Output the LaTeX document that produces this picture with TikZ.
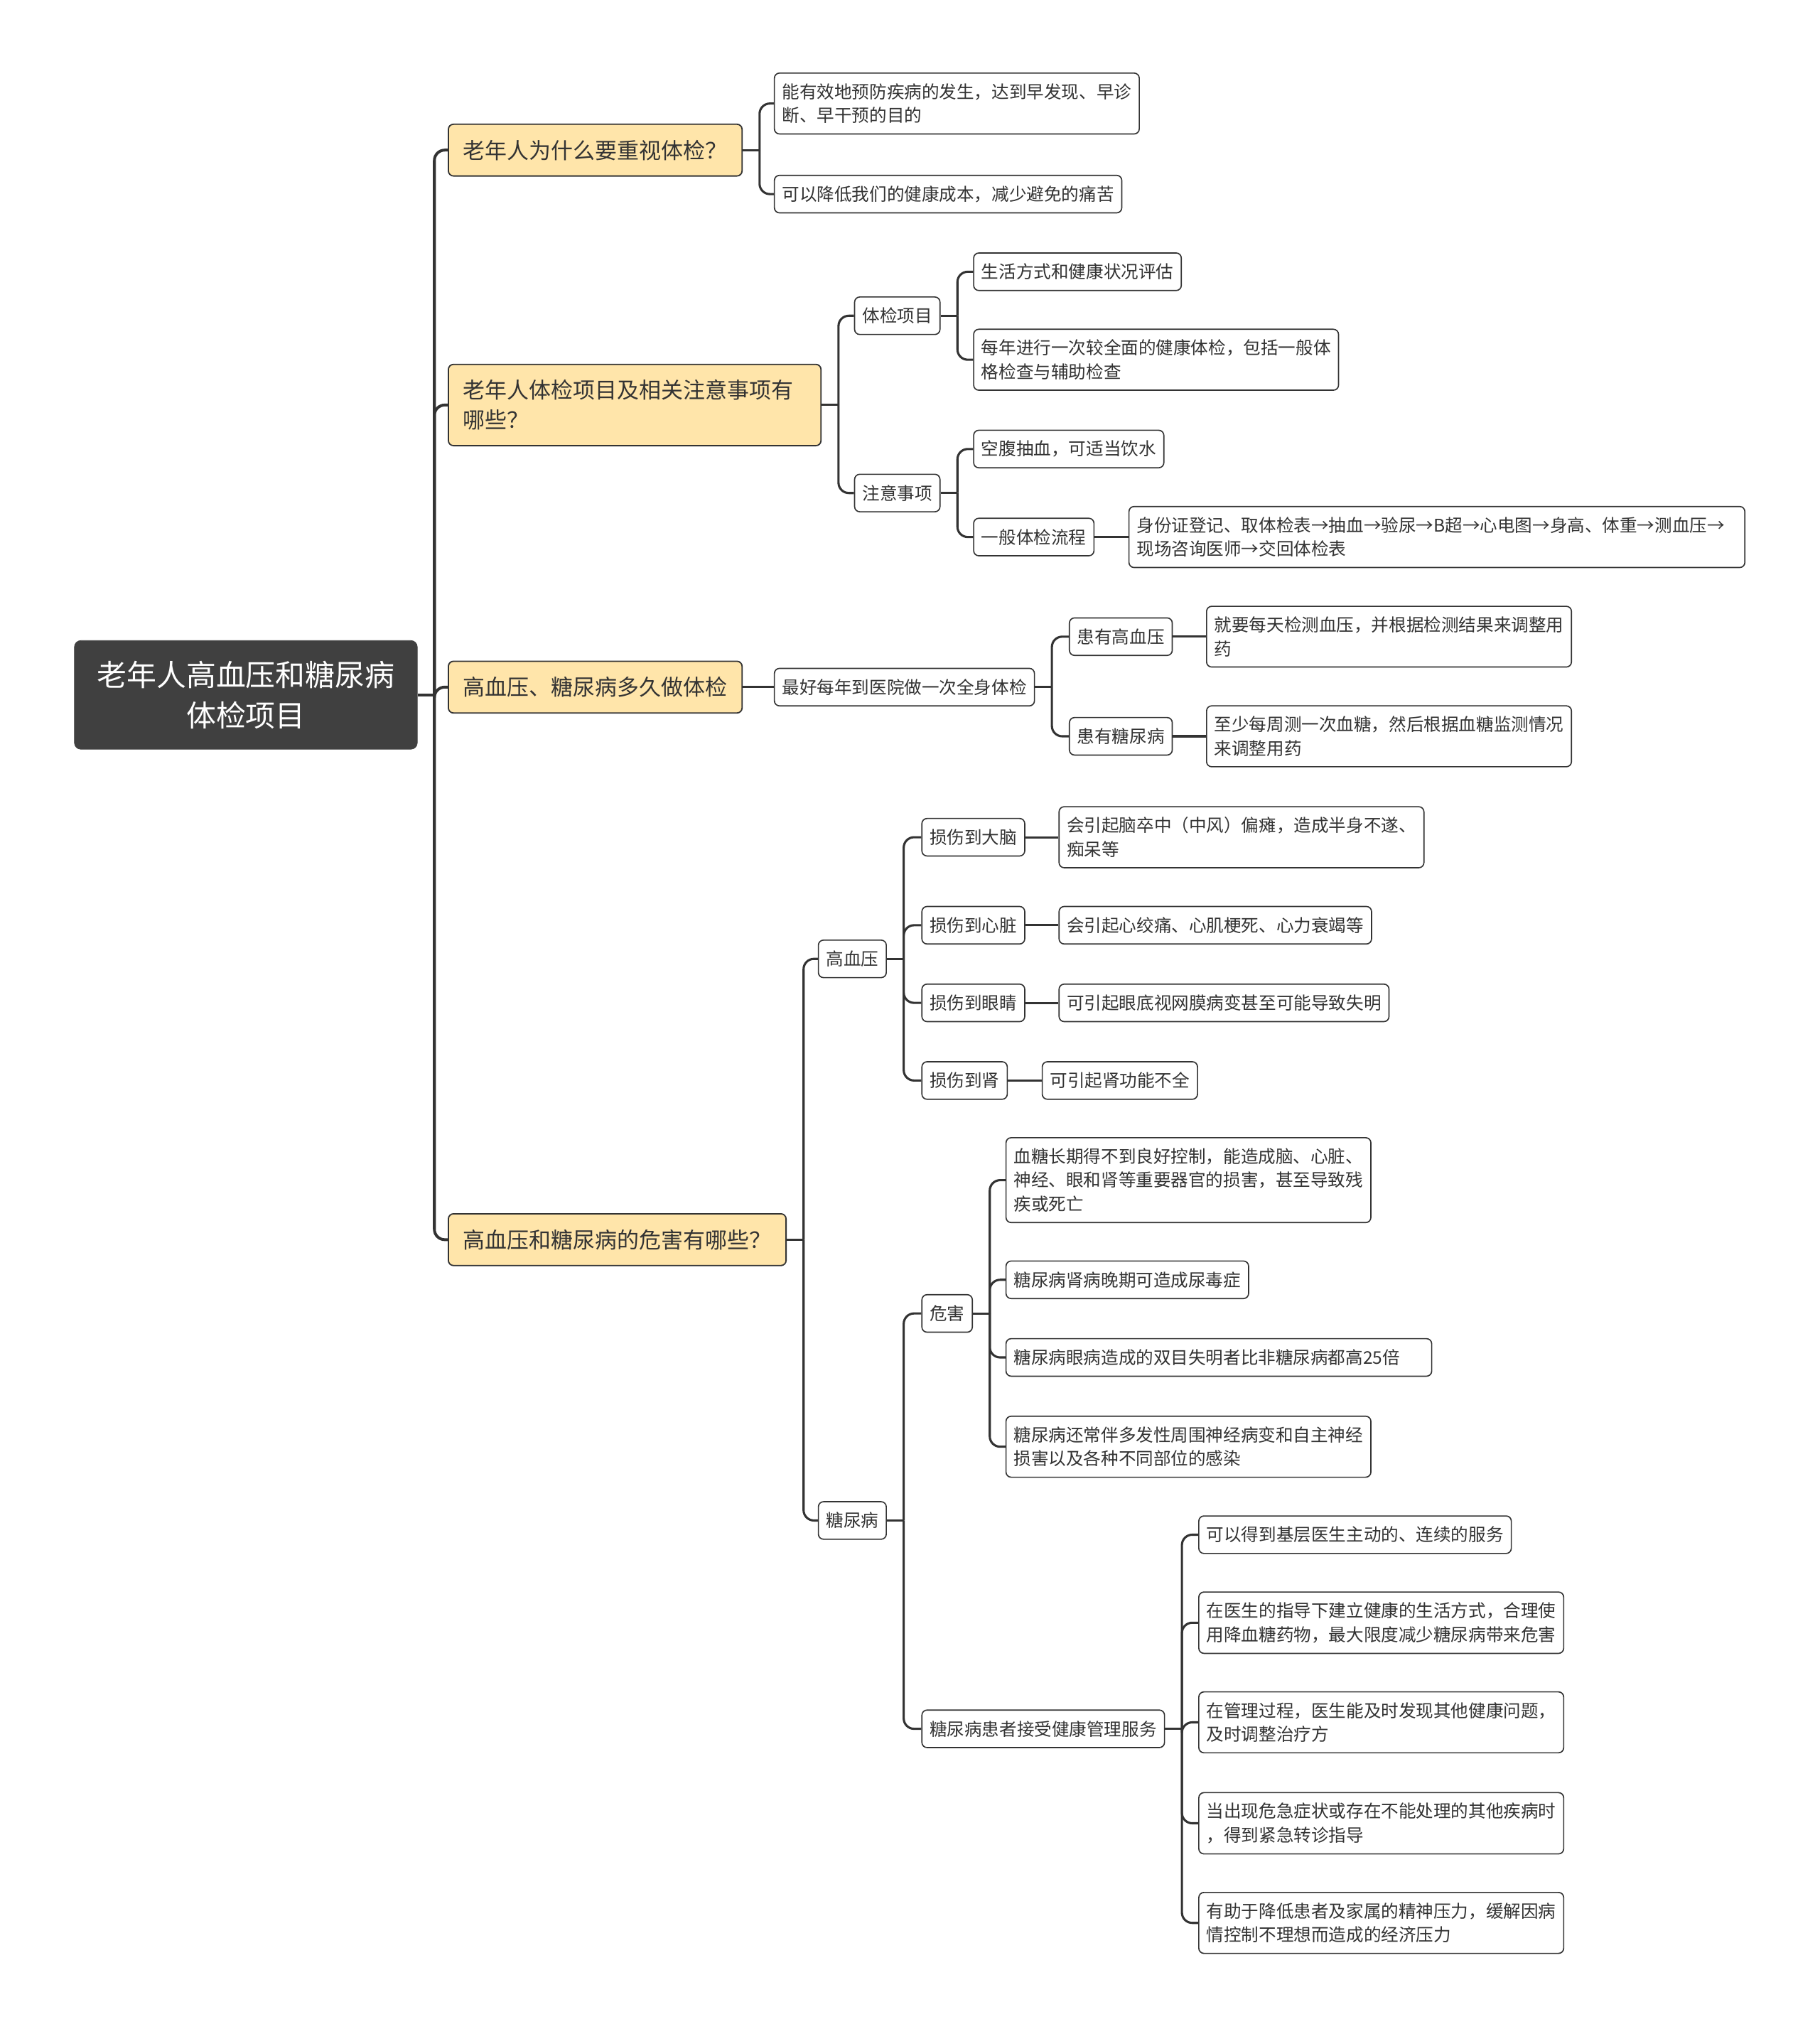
\documentclass[tikz,border=0pt]{standalone}
\usepackage{fontspec}
\setmainfont{Noto Sans CJK SC}
\definecolor{rootgray}{RGB}{64, 64, 64}
\definecolor{topicyellow}{RGB}{255, 229, 170}
\definecolor{linegray}{RGB}{51, 51, 51}
\usepackage{tikz}
\usetikzlibrary{positioning}

\begin{document}
\begin{tikzpicture}[x=1pt, y=-1pt,
    rootbox/.style={draw=rootgray, fill=rootgray, rounded corners=5pt, text=white, align=center,
                    font=\fontsize{23}{31}\selectfont, minimum width=265pt, minimum height=84pt},
    topicbox/.style={draw=linegray, fill=topicyellow, rounded corners=4pt, align=left, anchor=west,
                     line width=1pt, text=linegray, font=\fontsize{17}{23}\selectfont,
                     inner xsep=11.5pt, inner ysep=12pt, minimum height=40pt},
    leafbox/.style={draw=linegray, fill=white, rounded corners=4pt, align=left, anchor=west,
                    line width=0.9pt, text=linegray, font=\fontsize{13.5}{18.5}\selectfont,
                    inner xsep=6pt, inner ysep=8pt, minimum height=29pt},
    trunk/.style={draw=linegray, line width=2.2pt, rounded corners=8pt},
    branch/.style={draw=linegray, line width=1.7pt, rounded corners=8pt},
]
    \useasboundingbox (0,0) rectangle (1406,1568);

    % root and main topics
    \node[rootbox] (root) at (190,537) {老年人高血压和糖尿病\\体检项目};
    \node[topicbox] (why) at (346,116) {老年人为什么要重视体检？};
    \node[topicbox, text width=265pt] (items) at (346,313) {老年人体检项目及相关注意事项有\\哪些？};
    \node[topicbox] (often) at (346,531) {高血压、糖尿病多久做体检};
    \node[topicbox] (harm) at (346,958) {高血压和糖尿病的危害有哪些？};

    % why
    \node[leafbox] (whyA) at (598,80) {能有效地预防疾病的发生，达到早发现、早诊\\断、早干预的目的};
    \node[leafbox] (whyB) at (598,150) {可以降低我们的健康成本，减少避免的痛苦};

    % items
    \node[leafbox] (exam) at (660,244) {体检项目};
    \node[leafbox] (note) at (660,381) {注意事项};
    \node[leafbox] (examA) at (752,210) {生活方式和健康状况评估};
    \node[leafbox] (examB) at (752,278) {每年进行一次较全面的健康体检，包括一般体\\格检查与辅助检查};
    \node[leafbox] (noteA) at (752,347) {空腹抽血，可适当饮水};
    \node[leafbox] (noteB) at (752,415) {一般体检流程};
    \node[leafbox, text width=464pt] (flow) at (872,415) {身份证登记、取体检表→抽血→验尿→B超→心电图→身高、体重→测血压→\\现场咨询医师→交回体检表};

    % often
    \node[leafbox] (yearly) at (598,531) {最好每年到医院做一次全身体检};
    \node[leafbox] (hasHbp) at (826,492) {患有高血压};
    \node[leafbox] (hasDm) at (826,569) {患有糖尿病};
    \node[leafbox] (hbpAdvice) at (932,492) {就要每天检测血压，并根据检测结果来调整用\\药};
    \node[leafbox] (dmAdvice) at (932,569) {至少每周测一次血糖，然后根据血糖监测情况\\来调整用药};

    % harm: hypertension
    \node[leafbox] (hbp) at (632,741) {高血压};
    \node[leafbox] (brain) at (712,647) {损伤到大脑};
    \node[leafbox] (heart) at (712,715) {损伤到心脏};
    \node[leafbox] (eye) at (712,775) {损伤到眼睛};
    \node[leafbox] (kidney) at (712,835) {损伤到肾};
    \node[leafbox] (brainFx) at (818,647) {会引起脑卒中（中风）偏瘫，造成半身不遂、\\痴呆等};
    \node[leafbox] (heartFx) at (818,715) {会引起心绞痛、心肌梗死、心力衰竭等};
    \node[leafbox] (eyeFx) at (818,775) {可引起眼底视网膜病变甚至可能导致失明};
    \node[leafbox] (kidneyFx) at (805,835) {可引起肾功能不全};

    % harm: diabetes
    \node[leafbox] (dm) at (632,1175) {糖尿病};
    \node[leafbox] (dmHarm) at (712,1015) {危害};
    \node[leafbox] (dmCare) at (712,1336) {糖尿病患者接受健康管理服务};
    \node[leafbox] (harmA) at (777,912) {血糖长期得不到良好控制，能造成脑、心脏、\\神经、眼和肾等重要器官的损害，甚至导致残\\疾或死亡};
    \node[leafbox] (harmB) at (777,989) {糖尿病肾病晚期可造成尿毒症};
    \node[leafbox, text width=317pt] (harmC) at (777,1049) {糖尿病眼病造成的双目失明者比非糖尿病都高25倍};
    \node[leafbox] (harmD) at (777,1118) {糖尿病还常伴多发性周围神经病变和自主神经\\损害以及各种不同部位的感染};
    \node[leafbox] (careA) at (926,1186) {可以得到基层医生主动的、连续的服务};
    \node[leafbox] (careB) at (926,1254) {在医生的指导下建立健康的生活方式，合理使\\用降血糖药物，最大限度减少糖尿病带来危害};
    \node[leafbox] (careC) at (926,1331) {在管理过程，医生能及时发现其他健康问题，\\及时调整治疗方};
    \node[leafbox] (careD) at (926,1409) {当出现危急症状或存在不能处理的其他疾病时\\，得到紧急转诊指导};
    \node[leafbox] (careE) at (926,1486) {有助于降低患者及家属的精神压力，缓解因病\\情控制不理想而造成的经济压力};

    % junctions and stubs
    \foreach \p in {root, why, items, exam, note, yearly, harm, hbp, dm, dmHarm, dmCare}
        \coordinate (\p-j) at ([xshift=13pt]\p.east);
    \draw[trunk] (root.east) -- (root-j);
    \foreach \p in {why, items, exam, note, yearly, harm, hbp, dm, dmHarm, dmCare}
        \draw[branch] (\p.east) -- (\p-j);

    % connectors
    \foreach \t in {why, items, often, harm}
        \draw[trunk] (root-j) |- (\t.west);
    \draw[branch] (why-j) |- (whyA.west);
    \draw[branch] (why-j) |- (whyB.west);
    \draw[branch] (items-j) |- (exam.west);
    \draw[branch] (items-j) |- (note.west);
    \draw[branch] (exam-j) |- (examA.west);
    \draw[branch] (exam-j) |- (examB.west);
    \draw[branch] (note-j) |- (noteA.west);
    \draw[branch] (note-j) |- (noteB.west);
    \draw[branch] (yearly-j) |- (hasHbp.west);
    \draw[branch] (yearly-j) |- (hasDm.west);
    \draw[branch] (harm-j) |- (hbp.west);
    \draw[branch] (harm-j) |- (dm.west);
    \foreach \c in {brain, heart, eye, kidney}
        \draw[branch] (hbp-j) |- (\c.west);
    \draw[branch] (dm-j) |- (dmHarm.west);
    \draw[branch] (dm-j) |- (dmCare.west);
    \foreach \c in {harmA, harmB, harmC, harmD}
        \draw[branch] (dmHarm-j) |- (\c.west);
    \foreach \c in {careA, careB, careC, careD, careE}
        \draw[branch] (dmCare-j) |- (\c.west);

    % single links
    \draw[branch] (often.east) -- (yearly.west);
    \draw[branch] (noteB.east) -- (flow.west);
    \draw[branch] (hasHbp.east) -- (hbpAdvice.west);
    \draw[branch] (hasDm.east) -- (dmAdvice.west);
    \draw[branch] (brain.east) -- (brainFx.west);
    \draw[branch] (heart.east) -- (heartFx.west);
    \draw[branch] (eye.east) -- (eyeFx.west);
    \draw[branch] (kidney.east) -- (kidneyFx.west);
\end{tikzpicture}
\end{document}
